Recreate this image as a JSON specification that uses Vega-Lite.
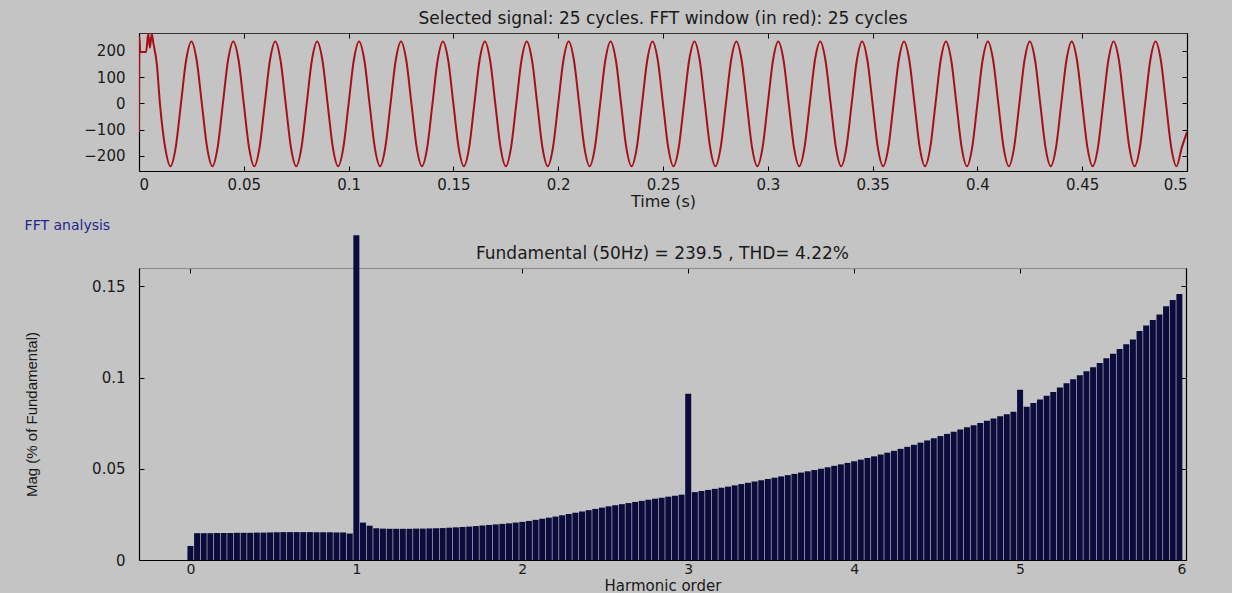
{
  "$schema": "https://vega.github.io/schema/vega-lite/v6.json",
  "background": "#c4c4c4",
  "padding": {"left": 24, "top": 9, "right": 44, "bottom": 0},
  "spacing": 10,
  "config": {
    "view": {"stroke": null},
    "font": "DejaVu Sans",
    "axis": {
      "domainColor": "#000000", "tickColor": "#000000", "labelColor": "#1a1a1a", "titleColor": "#1a1a1a",
      "labelFont": "DejaVu Sans", "labelFontSize": 15, "tickSize": -5, "grid": false,
      "titleFont": "DejaVu Sans", "titleFontSize": 16, "titleFontWeight": "normal", "domainWidth": 1.2
    },
    "title": {"fontWeight": "normal", "fontSize": 17, "color": "#1a1a1a", "font": "DejaVu Sans"}
  },
  "vconcat": [
    {
      "width": 1048,
      "height": 138,
      "title": {"text": "Selected signal: 25 cycles. FFT window (in red): 25 cycles", "offset": 5},
      "data": {"values": [
        {"t":0,"v":-110},{"t":0.0002,"v":255},{"t":0.0006,"v":196},{"t":0.0034,"v":196},{"t":0.0044,"v":266},{"t":0.0052,"v":212},{"t":0.0061,"v":266},{"t":0.0068,"v":232},{"t":0.0085,"v":150},
        {"t":0.01,"v":-2},{"t":0.0125,"v":-169},{"t":0.015,"v":-240},{"t":0.0175,"v":-169},
        {"t":0.02,"v":-2},{"t":0.0225,"v":165},{"t":0.025,"v":236},{"t":0.0275,"v":165},{"t":0.03,"v":-2},{"t":0.0325,"v":-169},{"t":0.035,"v":-240},{"t":0.0375,"v":-169},
        {"t":0.04,"v":-2},{"t":0.0425,"v":165},{"t":0.045,"v":236},{"t":0.0475,"v":165},{"t":0.05,"v":-2},{"t":0.0525,"v":-169},{"t":0.055,"v":-240},{"t":0.0575,"v":-169},
        {"t":0.06,"v":-2},{"t":0.0625,"v":165},{"t":0.065,"v":236},{"t":0.0675,"v":165},{"t":0.07,"v":-2},{"t":0.0725,"v":-169},{"t":0.075,"v":-240},{"t":0.0775,"v":-169},
        {"t":0.08,"v":-2},{"t":0.0825,"v":165},{"t":0.085,"v":236},{"t":0.0875,"v":165},{"t":0.09,"v":-2},{"t":0.0925,"v":-169},{"t":0.095,"v":-240},{"t":0.0975,"v":-169},
        {"t":0.1,"v":-2},{"t":0.1025,"v":165},{"t":0.105,"v":236},{"t":0.1075,"v":165},{"t":0.11,"v":-2},{"t":0.1125,"v":-169},{"t":0.115,"v":-240},{"t":0.1175,"v":-169},
        {"t":0.12,"v":-2},{"t":0.1225,"v":165},{"t":0.125,"v":236},{"t":0.1275,"v":165},{"t":0.13,"v":-2},{"t":0.1325,"v":-169},{"t":0.135,"v":-240},{"t":0.1375,"v":-169},
        {"t":0.14,"v":-2},{"t":0.1425,"v":165},{"t":0.145,"v":236},{"t":0.1475,"v":165},{"t":0.15,"v":-2},{"t":0.1525,"v":-169},{"t":0.155,"v":-240},{"t":0.1575,"v":-169},
        {"t":0.16,"v":-2},{"t":0.1625,"v":165},{"t":0.165,"v":236},{"t":0.1675,"v":165},{"t":0.17,"v":-2},{"t":0.1725,"v":-169},{"t":0.175,"v":-240},{"t":0.1775,"v":-169},
        {"t":0.18,"v":-2},{"t":0.1825,"v":165},{"t":0.185,"v":236},{"t":0.1875,"v":165},{"t":0.19,"v":-2},{"t":0.1925,"v":-169},{"t":0.195,"v":-240},{"t":0.1975,"v":-169},
        {"t":0.2,"v":-2},{"t":0.2025,"v":165},{"t":0.205,"v":236},{"t":0.2075,"v":165},{"t":0.21,"v":-2},{"t":0.2125,"v":-169},{"t":0.215,"v":-240},{"t":0.2175,"v":-169},
        {"t":0.22,"v":-2},{"t":0.2225,"v":165},{"t":0.225,"v":236},{"t":0.2275,"v":165},{"t":0.23,"v":-2},{"t":0.2325,"v":-169},{"t":0.235,"v":-240},{"t":0.2375,"v":-169},
        {"t":0.24,"v":-2},{"t":0.2425,"v":165},{"t":0.245,"v":236},{"t":0.2475,"v":165},{"t":0.25,"v":-2},{"t":0.2525,"v":-169},{"t":0.255,"v":-240},{"t":0.2575,"v":-169},
        {"t":0.26,"v":-2},{"t":0.2625,"v":165},{"t":0.265,"v":236},{"t":0.2675,"v":165},{"t":0.27,"v":-2},{"t":0.2725,"v":-169},{"t":0.275,"v":-240},{"t":0.2775,"v":-169},
        {"t":0.28,"v":-2},{"t":0.2825,"v":165},{"t":0.285,"v":236},{"t":0.2875,"v":165},{"t":0.29,"v":-2},{"t":0.2925,"v":-169},{"t":0.295,"v":-240},{"t":0.2975,"v":-169},
        {"t":0.3,"v":-2},{"t":0.3025,"v":165},{"t":0.305,"v":236},{"t":0.3075,"v":165},{"t":0.31,"v":-2},{"t":0.3125,"v":-169},{"t":0.315,"v":-240},{"t":0.3175,"v":-169},
        {"t":0.32,"v":-2},{"t":0.3225,"v":165},{"t":0.325,"v":236},{"t":0.3275,"v":165},{"t":0.33,"v":-2},{"t":0.3325,"v":-169},{"t":0.335,"v":-240},{"t":0.3375,"v":-169},
        {"t":0.34,"v":-2},{"t":0.3425,"v":165},{"t":0.345,"v":236},{"t":0.3475,"v":165},{"t":0.35,"v":-2},{"t":0.3525,"v":-169},{"t":0.355,"v":-240},{"t":0.3575,"v":-169},
        {"t":0.36,"v":-2},{"t":0.3625,"v":165},{"t":0.365,"v":236},{"t":0.3675,"v":165},{"t":0.37,"v":-2},{"t":0.3725,"v":-169},{"t":0.375,"v":-240},{"t":0.3775,"v":-169},
        {"t":0.38,"v":-2},{"t":0.3825,"v":165},{"t":0.385,"v":236},{"t":0.3875,"v":165},{"t":0.39,"v":-2},{"t":0.3925,"v":-169},{"t":0.395,"v":-240},{"t":0.3975,"v":-169},
        {"t":0.4,"v":-2},{"t":0.4025,"v":165},{"t":0.405,"v":236},{"t":0.4075,"v":165},{"t":0.41,"v":-2},{"t":0.4125,"v":-169},{"t":0.415,"v":-240},{"t":0.4175,"v":-169},
        {"t":0.42,"v":-2},{"t":0.4225,"v":165},{"t":0.425,"v":236},{"t":0.4275,"v":165},{"t":0.43,"v":-2},{"t":0.4325,"v":-169},{"t":0.435,"v":-240},{"t":0.4375,"v":-169},
        {"t":0.44,"v":-2},{"t":0.4425,"v":165},{"t":0.445,"v":236},{"t":0.4475,"v":165},{"t":0.45,"v":-2},{"t":0.4525,"v":-169},{"t":0.455,"v":-240},{"t":0.4575,"v":-169},
        {"t":0.46,"v":-2},{"t":0.4625,"v":165},{"t":0.465,"v":236},{"t":0.4675,"v":165},{"t":0.47,"v":-2},{"t":0.4725,"v":-169},{"t":0.475,"v":-240},{"t":0.4775,"v":-169},
        {"t":0.48,"v":-2},{"t":0.4825,"v":165},{"t":0.485,"v":236},{"t":0.4875,"v":165},{"t":0.49,"v":-2},{"t":0.4925,"v":-169},{"t":0.495,"v":-240},{"t":0.4975,"v":-169},
        {"t":0.5,"v":-110}
      ]},
      "layer": [
        {
          "mark": {"type": "line", "color": "#a81018", "strokeWidth": 2, "interpolate": "monotone", "clip": true},
          "encoding": {
            "x": {"field": "t", "type": "quantitative", "scale": {"domain": [0, 0.5], "nice": false, "zero": false},
                  "axis": {"values": [0,0.05,0.1,0.15,0.2,0.25,0.3,0.35,0.4,0.45,0.5], "format": "~g", "title": "Time (s)", "labelPadding": 11, "titlePadding": 1}},
            "y": {"field": "v", "type": "quantitative", "scale": {"domain": [-258, 268], "nice": false, "zero": false},
                  "axis": {"values": [-200,-100,0,100,200], "title": null, "labelPadding": 19}}
          }
        },
        {
          "mark": {"type": "line", "strokeOpacity": 0, "clip": true},
          "encoding": {
            "x": {"field": "t", "type": "quantitative", "axis": {"orient": "top", "values": [0,0.05,0.1,0.15,0.2,0.25,0.3,0.35,0.4,0.45,0.5], "labels": false, "title": null, "domainColor": "#333333"}},
            "y": {"field": "v", "type": "quantitative", "axis": {"orient": "right", "values": [-200,-100,0,100,200], "labels": false, "title": null}}
          }
        }
      ],
      "resolve": {"axis": {"x": "independent", "y": "independent"}}
    },
    {
      "title": {"text": "FFT analysis", "anchor": "start", "frame": "bounds", "color": "#24248c", "fontSize": 14, "offset": 2},
      "vconcat": [
        {
          "width": 1047,
          "height": 292,
          "title": {"text": "Fundamental (50Hz) = 239.5 , THD= 4.22%", "offset": -28},
          "data": {"values": [
            {"h":0,"m":0.0077},{"h":0.04,"m":0.0147},{"h":0.08,"m":0.0147},{"h":0.12,"m":0.0147},{"h":0.16,"m":0.0148},{"h":0.2,"m":0.0148},{"h":0.24,"m":0.0148},{"h":0.28,"m":0.0149},{"h":0.32,"m":0.0149},{"h":0.36,"m":0.0149},
            {"h":0.4,"m":0.015},{"h":0.44,"m":0.015},{"h":0.48,"m":0.0151},{"h":0.52,"m":0.0152},{"h":0.56,"m":0.0153},{"h":0.6,"m":0.0153},{"h":0.64,"m":0.0153},{"h":0.68,"m":0.0153},{"h":0.72,"m":0.0153},{"h":0.76,"m":0.0152},
            {"h":0.8,"m":0.0152},{"h":0.84,"m":0.0152},{"h":0.88,"m":0.0151},{"h":0.92,"m":0.0151},{"h":0.96,"m":0.0145},{"h":1,"m":0.178},{"h":1.04,"m":0.0205},{"h":1.08,"m":0.0188},{"h":1.12,"m":0.0174},{"h":1.16,"m":0.0172},
            {"h":1.2,"m":0.0171},{"h":1.24,"m":0.0171},{"h":1.28,"m":0.0171},{"h":1.32,"m":0.0171},{"h":1.36,"m":0.0172},{"h":1.4,"m":0.0172},{"h":1.44,"m":0.0173},{"h":1.48,"m":0.0174},{"h":1.52,"m":0.0175},{"h":1.56,"m":0.0177},
            {"h":1.6,"m":0.0179},{"h":1.64,"m":0.0181},{"h":1.68,"m":0.0183},{"h":1.72,"m":0.0186},{"h":1.76,"m":0.0189},{"h":1.8,"m":0.0192},{"h":1.84,"m":0.0195},{"h":1.88,"m":0.0198},{"h":1.92,"m":0.0201},{"h":1.96,"m":0.0205},
            {"h":2,"m":0.0209},{"h":2.04,"m":0.0214},{"h":2.08,"m":0.022},{"h":2.12,"m":0.0226},{"h":2.16,"m":0.0232},{"h":2.2,"m":0.0238},{"h":2.24,"m":0.0245},{"h":2.28,"m":0.0252},{"h":2.32,"m":0.0259},{"h":2.36,"m":0.0266},
            {"h":2.4,"m":0.0273},{"h":2.44,"m":0.028},{"h":2.48,"m":0.0287},{"h":2.52,"m":0.0294},{"h":2.56,"m":0.03},{"h":2.6,"m":0.0306},{"h":2.64,"m":0.0312},{"h":2.68,"m":0.0318},{"h":2.72,"m":0.0324},{"h":2.76,"m":0.033},
            {"h":2.8,"m":0.0336},{"h":2.84,"m":0.0341},{"h":2.88,"m":0.0347},{"h":2.92,"m":0.0352},{"h":2.96,"m":0.0358},{"h":3,"m":0.0911},{"h":3.04,"m":0.0372},{"h":3.08,"m":0.0378},{"h":3.12,"m":0.0384},{"h":3.16,"m":0.039},
            {"h":3.2,"m":0.0396},{"h":3.24,"m":0.0402},{"h":3.28,"m":0.0409},{"h":3.32,"m":0.0416},{"h":3.36,"m":0.0423},{"h":3.4,"m":0.043},{"h":3.44,"m":0.0437},{"h":3.48,"m":0.0444},{"h":3.52,"m":0.0451},{"h":3.56,"m":0.0458},
            {"h":3.6,"m":0.0465},{"h":3.64,"m":0.0472},{"h":3.68,"m":0.0479},{"h":3.72,"m":0.0486},{"h":3.76,"m":0.0493},{"h":3.8,"m":0.05},{"h":3.84,"m":0.0508},{"h":3.88,"m":0.0516},{"h":3.92,"m":0.0524},{"h":3.96,"m":0.0532},
            {"h":4,"m":0.0541},{"h":4.04,"m":0.055},{"h":4.08,"m":0.0559},{"h":4.12,"m":0.0568},{"h":4.16,"m":0.0578},{"h":4.2,"m":0.0588},{"h":4.24,"m":0.0598},{"h":4.28,"m":0.0609},{"h":4.32,"m":0.062},{"h":4.36,"m":0.0631},
            {"h":4.4,"m":0.0643},{"h":4.44,"m":0.0655},{"h":4.48,"m":0.0667},{"h":4.52,"m":0.0679},{"h":4.56,"m":0.0691},{"h":4.6,"m":0.0703},{"h":4.64,"m":0.0715},{"h":4.68,"m":0.0727},{"h":4.72,"m":0.0739},{"h":4.76,"m":0.0751},
            {"h":4.8,"m":0.0763},{"h":4.84,"m":0.0775},{"h":4.88,"m":0.0787},{"h":4.92,"m":0.0799},{"h":4.96,"m":0.0812},{"h":5,"m":0.0933},{"h":5.04,"m":0.084},{"h":5.08,"m":0.086},{"h":5.12,"m":0.088},{"h":5.16,"m":0.09},
            {"h":5.2,"m":0.0921},{"h":5.24,"m":0.0945},{"h":5.28,"m":0.0968},{"h":5.32,"m":0.099},{"h":5.36,"m":0.1012},{"h":5.4,"m":0.1034},{"h":5.44,"m":0.1056},{"h":5.48,"m":0.108},{"h":5.52,"m":0.1105},{"h":5.56,"m":0.113},
            {"h":5.6,"m":0.1156},{"h":5.64,"m":0.1182},{"h":5.68,"m":0.1208},{"h":5.72,"m":0.1255},{"h":5.76,"m":0.1285},{"h":5.8,"m":0.1315},{"h":5.84,"m":0.1345},{"h":5.88,"m":0.139},{"h":5.92,"m":0.1425},{"h":5.96,"m":0.1458}
          ]},
          "layer": [
            {
              "mark": {"type": "bar", "color": "#0c0c3c", "size": 6, "clip": false},
              "encoding": {
                "x": {"field": "h", "type": "quantitative", "scale": {"domain": [-0.31, 6], "nice": false, "zero": false, "padding": 0},
                      "axis": {"values": [0,1,2,3,4,5,6], "title": "Harmonic order", "labelPadding": 7, "labelFontSize": 14, "titlePadding": 2, "titleFontSize": 15}},
                "y": {"field": "m", "type": "quantitative", "scale": {"domain": [0, 0.16], "nice": false, "padding": 0},
                      "axis": {"values": [0,0.05,0.1,0.15], "format": "~g", "title": "Mag (% of Fundamental)", "titleFont": "Liberation Sans", "titleFontSize": 15, "labelPadding": 19, "titlePadding": 52}}
              }
            },
            {
              "mark": {"type": "bar", "opacity": 0, "size": 6, "clip": true},
              "encoding": {
                "x": {"field": "h", "type": "quantitative", "axis": {"orient": "top", "values": [0,1,2,3,4,5,6], "labels": false, "title": null, "domainColor": "#8a8a8a"}},
                "y": {"field": "m", "type": "quantitative", "axis": {"orient": "right", "values": [0,0.05,0.1,0.15], "labels": false, "title": null}}
              }
            }
          ],
          "resolve": {"axis": {"x": "independent", "y": "independent"}}
        }
      ]
    }
  ]
}
